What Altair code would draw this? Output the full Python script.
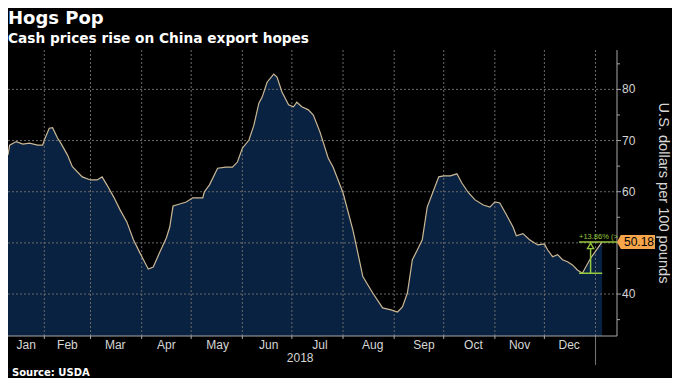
import altair as alt
import pandas as pd

# ---------------- data ----------------
dates = [
    "2018-01-10", "2018-01-11", "2018-01-15", "2018-01-19", "2018-01-23", "2018-01-28", "2018-01-31",
    "2018-02-01", "2018-02-04", "2018-02-06", "2018-02-09", "2018-02-11", "2018-02-15", "2018-02-18", "2018-02-24",
    "2018-03-01", "2018-03-05", "2018-03-08", "2018-03-11", "2018-03-15", "2018-03-19", "2018-03-23", "2018-03-27", "2018-03-31",
    "2018-04-03", "2018-04-05", "2018-04-08", "2018-04-12", "2018-04-16", "2018-04-18", "2018-04-20", "2018-04-24", "2018-04-28",
    "2018-05-02", "2018-05-08", "2018-05-09", "2018-05-12", "2018-05-17", "2018-05-22", "2018-05-26", "2018-05-29",
    "2018-06-01", "2018-06-05", "2018-06-08", "2018-06-11", "2018-06-13", "2018-06-16", "2018-06-20", "2018-06-22", "2018-06-25", "2018-06-29",
    "2018-07-02", "2018-07-04", "2018-07-07", "2018-07-11", "2018-07-14", "2018-07-18", "2018-07-23", "2018-07-26",
    "2018-08-01", "2018-08-07", "2018-08-10", "2018-08-13", "2018-08-19", "2018-08-25", "2018-08-30",
    "2018-09-03", "2018-09-06", "2018-09-09", "2018-09-12", "2018-09-15", "2018-09-18", "2018-09-21", "2018-09-25", "2018-09-28",
    "2018-10-01", "2018-10-05", "2018-10-09", "2018-10-12", "2018-10-16", "2018-10-20", "2018-10-25", "2018-10-29",
    "2018-11-01", "2018-11-04", "2018-11-08", "2018-11-12", "2018-11-14", "2018-11-18", "2018-11-22", "2018-11-27",
    "2018-12-01", "2018-12-03", "2018-12-06", "2018-12-09", "2018-12-12", "2018-12-15", "2018-12-18", "2018-12-21", "2018-12-24", "2018-12-29",
    "2019-01-05",
]
prices = [
    67.2, 69.1, 69.8, 69.3, 69.5, 69.1, 69.1,
    70.1, 72.4, 72.5, 70.5, 69.5, 67.2, 64.9, 62.9,
    62.3, 62.3, 62.9, 61.3, 59.0, 56.4, 54.1, 50.6, 48.0,
    46.1, 44.9, 45.3, 48.2, 51.0, 53.1, 57.2, 57.6, 58.0,
    58.8, 58.8, 60.0, 61.3, 64.6, 64.8, 64.8, 65.8,
    68.5, 70.1, 73.0, 77.3, 78.5, 81.4, 83.0, 82.4, 79.5, 77.0,
    76.6, 77.5, 76.6, 76.0, 75.0, 71.7, 66.6, 64.8,
    59.8, 52.5, 48.0, 43.4, 40.2, 37.3, 36.9,
    36.5, 37.5, 40.2, 46.7, 48.6, 50.6, 57.0, 60.4, 62.9,
    63.1, 63.1, 63.5, 61.7, 59.8, 58.4, 57.4, 57.0,
    58.0, 57.8, 55.5, 53.1, 51.4, 51.8, 50.6, 49.6,
    49.8, 48.6, 47.3, 47.7, 46.7, 46.3, 45.7, 44.7, 44.07, 47.0,
    50.18,
]

month_names = ["Jan", "Feb", "Mar", "Apr", "May", "Jun", "Jul", "Aug", "Sep", "Oct", "Nov", "Dec"]
month_label_dates = ["2018-01-21", "2018-02-15", "2018-03-16", "2018-04-16", "2018-05-17", "2018-06-17",
                     "2018-07-18", "2018-08-19", "2018-09-19", "2018-10-19", "2018-11-16", "2018-12-16"]
month_starts = ["2018-02-01", "2018-03-01", "2018-04-01", "2018-05-01", "2018-06-01", "2018-07-01",
                "2018-08-01", "2018-09-01", "2018-10-01", "2018-11-01", "2018-12-01", "2019-01-01"]
year_labels = ["2018"]
year_label_dates = ["2018-07-06"]
year_boundaries = ["2019-01-01"]
major_ticks = [40, 50, 60, 70, 80]
# the "50" label is hidden behind the last-price tag in the original
labelled_ticks = [40, 60, 70, 80]
minor_ticks = [35, 45, 55, 65, 75, 85]

last_price = 50.18
swing_low = 44.07
swing_text = "+13.86% (>"
swing_start, swing_mid, swing_end = "2018-12-22", "2018-12-29", "2019-01-05"

title_text = "Hogs Pop"
subtitle_text = "Cash prices rise on China export hopes"
source_text = "Source: USDA"
y_title = "U.S. dollars per 100 pounds"

# ---------------- styling ----------------
W, H = 609, 286
FILL = "#0a2241"
LINE = "#cbb894"
GRID = "#6a6a6a"
AXIS = "#a8a8a8"
LABEL = "#d6d6d6"
GREEN = "#97c93e"
ORANGE = "#f6a54b"
LABEL_FONT = "Liberation Sans"
BOLD_FONT = "DejaVu Sans"

x_scale = alt.Scale(type="utc", domain=[alt.DateTime(year=2018, month=1, date=10, utc=True),
                                        alt.DateTime(year=2019, month=1, date=14, utc=True)])
y_scale = alt.Scale(domain=[31.8, 87.7], zero=False, nice=False)

df = pd.DataFrame({"date": dates, "price": prices})


def X(f="date:T"):
    return alt.X(f, scale=x_scale, axis=None)


def Y(f):
    return alt.Y(f, scale=y_scale, axis=None)


def YD(v):
    return alt.Y(datum=v, scale=y_scale, axis=None)


area = alt.Chart(df).mark_area(color=FILL, opacity=1, clip=True).encode(
    x=X(), y=Y("price:Q"))

hgrid = alt.Chart(pd.DataFrame({"v": major_ticks})).mark_rule(
    color=GRID, strokeDash=[2, 2], strokeWidth=1).encode(
    y=Y("v:Q"), x=alt.value(0), x2=alt.value(W))

vgrid = alt.Chart(pd.DataFrame({"date": month_starts})).mark_rule(
    color=GRID, strokeDash=[2, 2], strokeWidth=1).encode(
    x=X(), y=alt.value(0), y2=alt.value(H))

mticks = alt.Chart(pd.DataFrame({"date": month_starts})).mark_rule(
    color=AXIS, strokeWidth=1).encode(x=X(), y=alt.value(H), y2=alt.value(H + 3))

yearline = alt.Chart(pd.DataFrame({"date": year_boundaries})).mark_rule(
    color="#777777", strokeWidth=1).encode(x=X(), y=alt.value(H), y2=alt.value(H + 29))

# axis lines (right and bottom)
frame = pd.DataFrame({"k": ["axis"]})
x_domain = alt.Chart(frame).mark_rule(color=AXIS, strokeWidth=1).encode(
    x=alt.value(0), x2=alt.value(W), y=alt.value(H))
y_domain = alt.Chart(frame).mark_rule(color=AXIS, strokeWidth=1).encode(
    x=alt.value(W), y=alt.value(0), y2=alt.value(H))

major = alt.Chart(pd.DataFrame({"v": major_ticks})).mark_rule(
    color=AXIS, strokeWidth=1).encode(y=Y("v:Q"), x=alt.value(W), x2=alt.value(W + 4))
minor = alt.Chart(pd.DataFrame({"v": minor_ticks})).mark_rule(
    color=AXIS, strokeWidth=1).encode(y=Y("v:Q"), x=alt.value(W), x2=alt.value(W + 3))
ylab = alt.Chart(pd.DataFrame({"v": labelled_ticks})).mark_text(
    color=LABEL, fontSize=12, font=LABEL_FONT, align="left", baseline="middle").encode(
    y=Y("v:Q"), x=alt.value(W + 5), text=alt.Text("v:Q", format="d"))
ytitle = alt.Chart(pd.DataFrame({"t": [y_title]})).mark_text(
    color=LABEL, fontSize=14.6, font=LABEL_FONT, align="center", baseline="middle",
    angle=90).encode(x=alt.value(W + 46), y=alt.value(H / 2), text="t:N")

line = alt.Chart(df).mark_line(color=LINE, strokeWidth=1.2, clip=True).encode(
    x=X(), y=Y("price:Q"))

sw = pd.DataFrame({"start": [swing_start], "mid": [swing_mid], "end": [swing_end], "t": [swing_text]})
sw_top = alt.Chart(sw).mark_rule(color=GREEN, strokeWidth=1.5).encode(
    x=X("start:T"), x2=alt.value(W), y=YD(last_price))
sw_bot = alt.Chart(sw).mark_rule(color=GREEN, strokeWidth=1.5).encode(
    x=X("start:T"), x2=alt.X2("end:T"), y=YD(swing_low))
sw_vert = alt.Chart(sw).mark_rule(color=GREEN, strokeWidth=1.5).encode(
    x=X("mid:T"), y=YD(swing_low), y2=alt.Y2(datum=last_price))
sw_tri = alt.Chart(sw).mark_point(shape="triangle-up", filled=True, fill="#000000", stroke=GREEN,
                                  strokeWidth=1.3, size=40, opacity=1, yOffset=4).encode(
    x=X("mid:T"), y=YD(last_price))
sw_txt = alt.Chart(sw).mark_text(color=GREEN, fontSize=7.5, font=LABEL_FONT, align="left",
                                 baseline="alphabetic", dy=-3).encode(
    x=X("start:T"), y=YD(last_price), text="t:N")

tag = pd.DataFrame({"t": [f"{last_price:.2f}"]})
tag_shape = alt.Chart(tag).mark_point(
    shape="M-1,0 L-0.8,-0.37 L1,-0.37 L1,0.37 L-0.8,0.37 Z",
    filled=True, color=ORANGE, opacity=1, size=1444).encode(
    x=alt.value(628), y=YD(last_price))
tag_text = alt.Chart(tag).mark_text(color="#000000", fontSize=12, font=LABEL_FONT,
                                    align="center", baseline="middle").encode(
    x=alt.value(631), y=YD(last_price), text="t:N")

mlabels = alt.Chart(pd.DataFrame({"date": month_label_dates, "t": month_names})).mark_text(
    color=LABEL, fontSize=12, font=LABEL_FONT, align="center", baseline="alphabetic").encode(
    x=X(), y=alt.value(H + 13), text="t:N")
ylabels = alt.Chart(pd.DataFrame({"date": year_label_dates, "t": year_labels})).mark_text(
    color=LABEL, fontSize=12, font=LABEL_FONT, align="center", baseline="alphabetic").encode(
    x=X(), y=alt.value(H + 26), text="t:N")

title = alt.Chart(pd.DataFrame({"t": [title_text]})).mark_text(
    color="#ffffff", fontSize=18, font=BOLD_FONT, fontWeight="bold", align="left",
    baseline="alphabetic").encode(x=alt.value(0), y=alt.value(-26), text="t:N")
subtitle = alt.Chart(pd.DataFrame({"t": [subtitle_text]})).mark_text(
    color="#ffffff", fontSize=13.7, font=BOLD_FONT, fontWeight="bold", align="left",
    baseline="alphabetic").encode(x=alt.value(0), y=alt.value(-7), text="t:N")
source = alt.Chart(pd.DataFrame({"t": [source_text]})).mark_text(
    color="#ffffff", fontSize=10, font=BOLD_FONT, fontWeight="bold", align="left",
    baseline="alphabetic").encode(x=alt.value(4), y=alt.value(H + 40), text="t:N")

chart = alt.layer(
    area, hgrid, vgrid, mticks, yearline, x_domain, y_domain, major, minor, ylab, ytitle, line,
    sw_top, sw_bot, sw_vert, sw_tri, sw_txt, tag_shape, tag_text,
    mlabels, ylabels, title, subtitle, source,
).properties(
    width=W, height=H,
    autosize=alt.AutoSizeParams(type="none"),
    padding={"left": 0, "top": 42, "right": 55, "bottom": 42},
    background="#000000",
).configure_view(stroke=None)

chart.save("out.html", embed_options={"renderer": "svg", "actions": False})
